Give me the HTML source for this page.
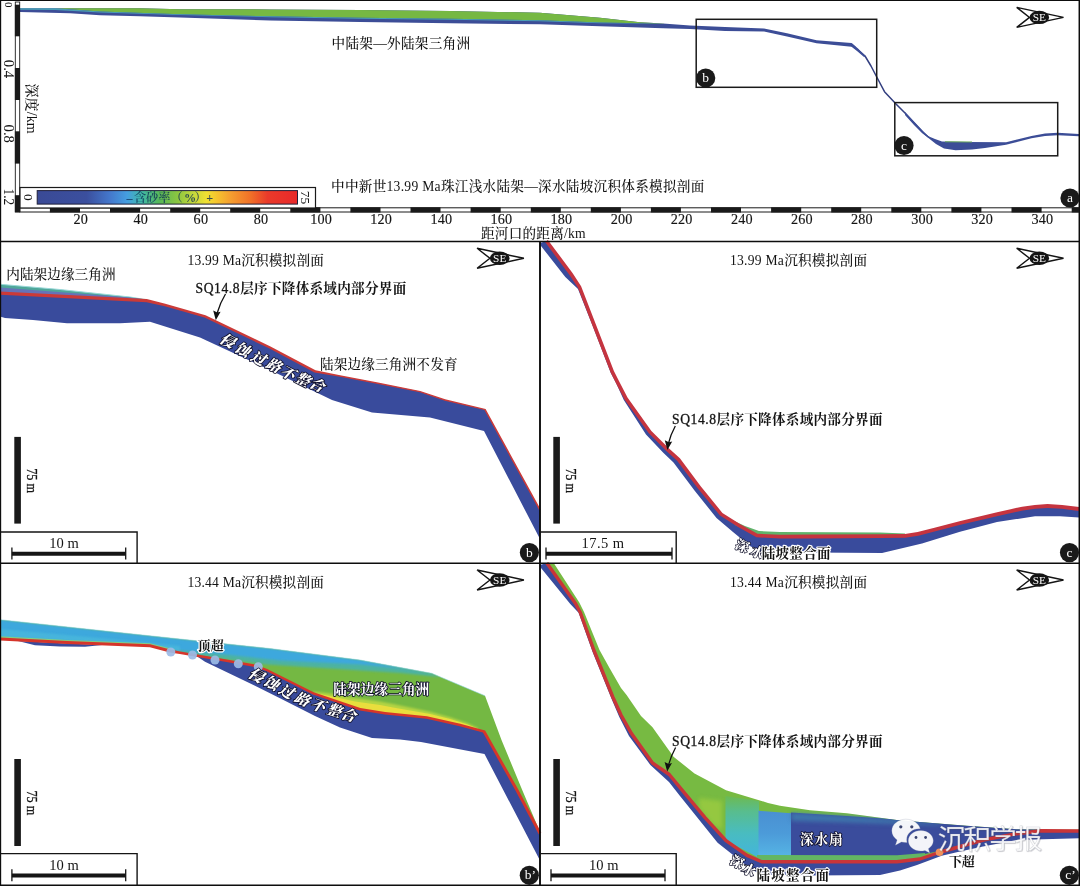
<!DOCTYPE html>
<html lang="zh"><head><meta charset="utf-8"><title>沉积模拟剖面</title>
<style>
html,body{margin:0;padding:0;background:#fff;}
body{width:1080px;height:886px;overflow:hidden;}
svg{display:block;}
text{font-family:"Liberation Serif","Noto Serif CJK SC",serif;font-size:14px;fill:#141414;font-weight:500;}
.b{font-weight:bold;}
.sb{font-weight:700;}
.sb tspan{font-weight:400;stroke:#141414;stroke-width:0.3px;letter-spacing:0.3px;}
.tk{font-size:14.2px;stroke:#141414;stroke-width:0.15px;}
.sans{font-family:"Liberation Sans","Noto Sans CJK SC",sans-serif;}
</style></head><body>
<svg width="1080" height="886" viewBox="0 0 1080 886">
<defs>
<linearGradient id="cb" x1="0" x2="1" y1="0" y2="0">
<stop offset="0" stop-color="#3a4a96"/>
<stop offset="0.19" stop-color="#3b4f9e"/>
<stop offset="0.28" stop-color="#4478cc"/>
<stop offset="0.345" stop-color="#459ee0"/>
<stop offset="0.4" stop-color="#40b8a8"/>
<stop offset="0.47" stop-color="#58b858"/>
<stop offset="0.54" stop-color="#8cc640"/>
<stop offset="0.6" stop-color="#c4d83c"/>
<stop offset="0.65" stop-color="#f0e032"/>
<stop offset="0.69" stop-color="#f6c42e"/>
<stop offset="0.74" stop-color="#f5a030"/>
<stop offset="0.82" stop-color="#f07028"/>
<stop offset="0.885" stop-color="#ea3a2a"/>
<stop offset="1" stop-color="#e8282a"/>
</linearGradient>

</defs>
<rect x="0" y="0" width="1080" height="886" fill="#fff"/>

<defs>
<filter id="bl1" x="-5%" y="-20%" width="110%" height="140%"><feGaussianBlur stdDeviation="1.2"/></filter>
<filter id="bl2" x="-10%" y="-30%" width="120%" height="160%"><feGaussianBlur stdDeviation="2.2"/></filter>
<filter id="bl05" x="-5%" y="-20%" width="110%" height="140%"><feGaussianBlur stdDeviation="0.5"/></filter>
<linearGradient id="gcy" x1="0" y1="0" x2="0" y2="1"><stop offset="0" stop-color="#6cba52"/><stop offset="0.25" stop-color="#58bd8e"/><stop offset="0.6" stop-color="#49bcc0"/><stop offset="1" stop-color="#43b4dc"/></linearGradient>
<linearGradient id="glb" x1="0" y1="0" x2="0" y2="1"><stop offset="0" stop-color="#4a90d2"/><stop offset="0.5" stop-color="#4c9bd9"/><stop offset="1" stop-color="#56b4e4"/></linearGradient>
</defs>
<g id="pa">
<polygon points="20.0,8.3 70.0,8.3 140.0,8.3 180.0,9.2 270.0,9.4 360.0,10.0 450.0,11.0 540.0,12.7 600.0,17.8 640.0,22.3 663.0,23.6 690.0,25.6 725.0,27.1 764.0,28.5 787.0,33.3 816.5,40.2 851.5,43.0 856.0,47.0 856.0,47.0 851.5,46.8 816.5,43.2 787.0,36.5 764.0,31.6 725.0,31.0 690.0,29.1 663.0,28.2 640.0,27.5 600.0,26.2 540.0,24.3 450.0,23.3 360.0,21.9 270.0,20.6 180.0,17.4 140.0,16.2 100.0,15.2 70.0,13.2 20.0,12.0" fill="#3c4d97" />
<polygon points="55.0,8.3 140.0,8.3 180.0,9.2 270.0,9.4 360.0,10.0 450.0,11.0 540.0,12.7 600.0,17.8 640.0,22.3 667.0,23.8 667.0,23.8 600.0,22.5 540.0,20.2 450.0,18.8 360.0,17.8 270.0,16.3 180.0,14.2 100.0,11.5 55.0,8.3" fill="#76b843" />
<polygon points="20.0,8.3 55.0,8.3 100.0,11.5 180.0,14.2 270.0,16.3 360.0,17.8 450.0,18.8 540.0,20.2 600.0,22.5 667.0,23.8 667.0,23.8 600.0,23.3 540.0,21.3 450.0,19.8 360.0,18.8 270.0,17.2 180.0,15.0 100.0,12.5 55.0,10.0 20.0,9.8" fill="#4a9fb5" />
<polyline points="851.5,44.8 858.0,50.0 865.0,56.0 871.0,66.0 877.0,77.5 884.5,91.7 896.0,104.0 905.0,113.0 915.0,124.0 923.0,132.5 929.0,137.5" fill="none" stroke="#333f80" stroke-width="1.5" stroke-linejoin="round" />
<polygon points="851.5,43.0 858.0,48.5 866.0,56.5 864.0,57.0 857.0,51.0 851.5,46.8" fill="#3c4d97" />
<polygon points="905.0,112.0 915.0,122.5 923.0,131.0 928.4,136.2 935.0,139.0 942.0,141.5 967.0,142.0 1006.0,142.3 1031.5,136.0 1045.0,133.6 1057.7,132.8 1079.0,133.9 1079.0,136.3 1057.7,135.3 1045.0,136.1 1031.5,138.3 1006.0,144.8 985.0,148.0 972.0,149.5 955.6,150.3 944.0,148.4 936.0,144.0 928.4,138.0 922.0,133.0 914.0,125.0 905.0,115.0" fill="#3c4d97" />
<polygon points="945.0,141.3 972.0,141.6 972.0,142.6 945.0,142.3" fill="#6aa95a" />
</g>
<g id="pb">
<polygon points="0.0,293.2 146.7,300.6 165.0,305.0 205.0,316.3 270.0,347.5 315.0,371.3 340.0,376.0 378.0,383.2 420.0,391.6 445.0,400.0 485.0,409.6 540.0,510.0 540.0,539.0 484.0,431.0 430.0,417.5 372.0,412.5 332.0,400.0 270.0,370.0 200.0,337.5 150.0,321.7 120.0,323.3 67.0,323.3 33.0,320.0 5.0,318.0 0.0,316.5" fill="#394b9c" />
<polygon points="0.0,284.2 60.0,289.5 130.0,297.0 146.7,299.5 0.0,293.0" fill="#4fa79a" />
<polygon points="0.0,283.8 60.0,289.1 130.0,296.6 146.7,299.3 130.0,297.4 60.0,290.0 0.0,284.8" fill="#9ad8d8" />
<polygon points="0.0,287.6 130.0,297.6 146.7,299.5 0.0,293.0" fill="#6573b8" />
<polygon points="0.1,291.6 146.8,299.0 165.3,303.8 205.5,315.2 270.5,346.4 315.5,370.2 340.1,375.3 378.1,382.5 420.2,390.9 445.2,399.3 485.6,409.1 540.7,509.6 539.3,510.4 484.4,410.1 444.8,400.7 419.8,392.3 377.9,383.9 339.9,376.7 314.5,372.4 269.5,348.6 204.5,317.4 164.7,306.2 146.6,302.2 -0.1,294.8" fill="#cb3a38" />
</g>
<g id="pc">
<polygon points="546.5,241.0 571.0,274.0 579.5,287.0 594.0,324.6 612.2,371.6 617.6,382.4 626.0,398.5 650.0,432.0 667.6,449.6 678.5,459.5 699.3,487.4 721.2,514.2 739.0,525.5 757.0,535.5 780.0,536.6 810.0,536.5 880.0,536.2 905.0,535.8 918.0,533.8 935.0,529.5 960.0,523.0 997.5,514.2 1022.5,508.6 1035.0,506.8 1047.5,506.0 1062.0,506.8 1079.0,509.0 1079.0,517.5 1060.0,516.3 1035.0,516.3 997.0,522.0 960.0,531.8 922.0,543.5 882.0,553.0 810.0,552.5 760.0,551.5 750.0,546.0 733.0,532.0 716.5,518.0 694.5,490.5 673.5,462.5 663.3,452.8 646.0,434.5 623.8,400.0 616.3,383.6 610.8,373.0 592.7,326.0 578.0,289.0 565.3,277.0 541.0,246.0 540.0,243.0" fill="#394b9c" />
<polygon points="733.0,520.5 745.0,526.0 759.0,531.0 780.0,532.0 880.0,532.6 905.0,533.6 905.0,535.5 757.0,535.5 735.0,525.0" fill="#5fb36a" />
<polygon points="547.9,239.9 572.5,273.0 581.1,286.3 595.7,324.0 613.9,370.9 619.2,381.6 627.5,397.5 651.4,430.9 668.8,448.3 679.9,458.3 700.7,486.3 722.4,512.9 739.9,524.0 757.5,533.7 780.0,534.7 810.0,534.6 880.0,534.3 904.9,533.9 917.6,531.9 934.5,527.7 959.5,521.2 997.1,512.3 1022.1,506.7 1034.8,504.9 1047.5,504.1 1062.2,504.9 1079.2,507.1 1078.8,510.9 1061.8,508.7 1047.5,507.9 1035.2,508.7 1022.9,510.5 997.9,516.1 960.5,524.8 935.5,531.3 918.4,535.7 905.1,537.7 880.0,538.1 810.0,538.4 780.0,538.5 756.5,537.3 738.1,527.0 720.0,515.5 697.9,488.5 677.1,460.7 666.4,450.9 648.6,433.1 624.5,399.5 616.0,383.2 610.5,372.3 592.3,325.2 577.9,287.7 569.5,275.0 545.1,242.1" fill="#c5343f" />
</g>
<g id="pb2">
<clipPath id="cpb2"><polygon points="0.0,619.7 180.0,639.0 270.0,648.5 360.0,660.0 431.7,673.3 485.0,695.8 501.5,740.0 522.0,789.5 537.5,826.0 540.0,832.0 540.0,833.5 516.6,789.5 484.0,731.5 460.0,725.0 426.7,717.5 385.0,713.3 360.0,709.2 313.3,693.3 296.7,685.0 266.7,670.0 255.0,665.8 226.7,660.8 180.0,652.8 170.0,651.0 150.0,645.8 67.0,642.5 0.0,639.0"/></clipPath>
<polygon points="180.0,652.8 226.7,660.8 255.0,665.8 266.7,670.0 296.7,685.0 313.3,693.3 360.0,709.2 385.0,713.3 426.7,717.5 460.0,725.0 484.0,731.5 516.6,789.5 540.0,833.5 540.0,860.5 484.5,754.0 421.0,742.0 400.0,739.5 372.0,738.0 340.0,727.5 315.0,716.0 280.0,698.3 246.7,681.7 205.0,661.7 198.0,657.0" fill="#394b9c" />
<polygon points="18.0,641.0 67.0,643.5 102.0,645.0 85.0,646.8 60.0,646.6 35.0,645.2" fill="#394b9c" />
<polygon points="0.0,619.7 180.0,639.0 270.0,648.5 360.0,660.0 431.7,673.3 485.0,695.8 501.5,740.0 522.0,789.5 537.5,826.0 540.0,832.0 540.0,833.5 516.6,789.5 484.0,731.5 460.0,725.0 426.7,717.5 385.0,713.3 360.0,709.2 313.3,693.3 296.7,685.0 266.7,670.0 255.0,665.8 226.7,660.8 180.0,652.8 170.0,651.0 150.0,645.8 67.0,642.5 0.0,639.0" fill="#74b843" />
<g clip-path="url(#cpb2)">
<polygon points="0.0,619.7 180.0,639.0 270.0,648.5 360.0,660.0 431.7,673.3 440.0,677.0 400.0,673.0 330.0,668.5 266.0,664.5 200.0,656.0 150.0,647.0 0.0,640.0" fill="#4db3a0" filter="url(#bl1)"/>
<polygon points="0.0,619.7 180.0,639.0 270.0,648.5 360.0,660.0 431.7,673.3 431.7,673.3 400.0,668.5 360.0,664.5 330.0,663.0 280.0,660.5 230.0,655.0 180.0,650.5 100.0,642.0 0.0,637.0" fill="#3ea8dd" filter="url(#bl1)"/>
<polygon points="0.0,629.0 100.0,638.0 180.0,646.0 180.0,651.0 100.0,642.5 0.0,637.5" fill="#49b7dc" filter="url(#bl1)" opacity="0.85"/>
<polygon points="0.0,636.3 67.0,640.0 150.0,643.3 175.0,649.5 175.0,651.5 150.0,645.0 67.0,641.8 0.0,638.0" fill="#8ccf7a" filter="url(#bl05)" opacity="0.9"/>
<polygon points="313.3,691.5 330.0,693.5 355.0,698.0 380.0,701.5 393.0,704.0 410.0,707.5 430.0,711.8 450.0,717.3 467.0,723.0 478.0,728.0 478.0,730.0 460.0,725.0 426.7,717.5 385.0,713.3 360.0,709.2 313.3,693.3" fill="#b4d443" filter="url(#bl1)"/>
<polygon points="314.0,693.0 330.0,696.0 355.0,701.5 380.0,705.0 393.0,707.5 410.0,710.5 430.0,714.0 450.0,719.0 467.0,724.3 478.0,728.8 478.0,730.0 460.0,725.0 426.7,717.5 385.0,713.3 360.0,709.2 314.0,694.5" fill="#e9de3e" filter="url(#bl05)"/>
</g>
<polyline points="0.0,619.7 180.0,639.0 270.0,648.5 360.0,660.0 431.7,673.3 485.0,695.8" fill="none" stroke="#8fd6e8" stroke-width="0.8" stroke-linejoin="round" opacity="0.7"/>
<polygon points="0.1,637.5 67.1,641.0 150.1,644.3 170.3,649.5 180.2,651.6 226.9,659.6 255.3,664.6 267.2,668.9 297.2,683.9 313.7,692.2 360.3,708.0 385.1,712.1 426.9,716.3 460.3,723.8 485.1,730.5 517.9,788.8 541.3,832.8 538.7,834.2 515.3,790.2 482.9,732.5 459.7,726.2 426.5,718.7 384.9,714.5 359.7,710.4 312.9,694.4 296.2,686.1 266.2,671.1 254.7,667.0 226.5,662.0 179.8,654.0 169.7,652.5 149.9,647.3 66.9,644.0 -0.1,640.5" fill="#d6352a" />
<circle cx="170.8" cy="652" r="4.5" fill="#9bbbe6" opacity="0.92"/>
<circle cx="192.5" cy="655" r="4.5" fill="#9bbbe6" opacity="0.92"/>
<circle cx="215" cy="660" r="4.5" fill="#9bbbe6" opacity="0.92"/>
<circle cx="238.3" cy="663.7" r="4.5" fill="#9bbbe6" opacity="0.92"/>
<circle cx="258.3" cy="666.7" r="4.5" fill="#9bbbe6" opacity="0.92"/>
</g>
<g id="pc2">
<clipPath id="cpc2"><polygon points="553.7,563.0 579.3,602.5 584.0,612.0 599.5,650.0 609.5,668.0 621.0,688.0 626.6,695.0 630.0,700.0 641.0,716.0 652.5,727.3 673.5,756.7 694.5,773.5 726.0,790.3 768.0,802.9 780.0,805.8 810.0,810.3 846.7,813.3 896.7,820.0 916.7,821.7 966.7,825.8 1016.7,829.2 1050.0,829.7 1079.0,829.7 1079.0,831.0 1041.7,830.8 1016.7,833.7 983.3,840.0 939.0,852.5 920.0,859.0 897.0,861.7 810.0,861.7 761.7,861.7 747.0,855.4 726.0,840.7 705.0,817.6 684.0,792.4 669.3,774.5 652.5,763.0 631.5,733.6 621.0,715.0 612.8,697.0 593.8,650.0 580.3,612.5 575.5,603.5 546.8,563.0"/></clipPath>
<polygon points="546.8,563.0 575.5,603.5 580.3,612.5 593.8,650.0 612.8,697.0 621.0,715.0 631.5,733.6 652.5,763.0 669.3,774.5 684.0,792.4 705.0,817.6 726.0,840.7 747.0,855.4 761.7,861.7 810.0,861.7 897.0,861.7 920.0,859.0 939.0,852.5 983.3,840.0 1016.7,833.7 1041.7,830.8 1079.0,831.0 1079.0,838.3 1016.7,840.0 983.0,846.5 960.0,851.5 941.7,855.8 917.0,865.0 900.0,870.5 880.0,875.0 810.0,875.5 759.6,874.3 747.0,866.0 717.6,842.8 680.0,796.0 669.0,782.0 650.4,765.0 629.0,736.0 619.3,717.0 611.6,699.0 592.6,652.0 578.6,612.8 570.3,604.0 541.0,568.0 540.0,565.0" fill="#394b9c" />
<polygon points="553.7,563.0 579.3,602.5 584.0,612.0 599.5,650.0 609.5,668.0 621.0,688.0 626.6,695.0 630.0,700.0 641.0,716.0 652.5,727.3 673.5,756.7 694.5,773.5 726.0,790.3 768.0,802.9 780.0,805.8 810.0,810.3 846.7,813.3 896.7,820.0 916.7,821.7 966.7,825.8 1016.7,829.2 1050.0,829.7 1079.0,829.7 1079.0,831.0 1041.7,830.8 1016.7,833.7 983.3,840.0 939.0,852.5 920.0,859.0 897.0,861.7 810.0,861.7 761.7,861.7 747.0,855.4 726.0,840.7 705.0,817.6 684.0,792.4 669.3,774.5 652.5,763.0 631.5,733.6 621.0,715.0 612.8,697.0 593.8,650.0 580.3,612.5 575.5,603.5 546.8,563.0" fill="#77ba42" />
<g clip-path="url(#cpc2)">
<polygon points="699.0,798.0 722.0,801.0 722.0,830.0 712.0,824.0 699.0,808.0" fill="#9fcd3f" filter="url(#bl2)" opacity="0.75"/>
<polygon points="725.5,796.0 759.0,801.0 759.0,858.0 725.5,840.0" fill="url(#gcy)" />
<polygon points="758.5,810.8 791.0,813.3 791.0,856.0 758.5,856.0" fill="url(#glb)" />
<polygon points="791.0,812.5 846.7,816.0 880.0,818.3 896.7,819.5 916.7,821.2 966.7,825.3 1016.7,828.7 1050.0,829.2 1050.0,830.0 1016.7,832.5 983.3,839.0 939.0,851.0 920.0,855.0 897.0,856.0 791.0,856.0" fill="#3a4c9c" />
<polygon points="791.0,812.5 846.7,816.0 896.7,819.5 940.0,823.0 940.0,825.0 896.7,824.0 846.7,822.5 791.0,821.0" fill="#3f7fb0" filter="url(#bl2)" opacity="0.8"/>
<polygon points="757.0,855.0 897.0,855.3 925.0,853.0 925.0,857.0 897.0,861.0 757.0,861.0" fill="#63b663" />
</g>
<polyline points="546.8,563.0 575.5,603.5 580.3,612.5 593.8,650.0 612.8,697.0 621.0,715.0 631.5,733.6 652.5,763.0 669.3,774.5 684.0,792.4 705.0,817.6 726.0,840.7 747.0,855.4 761.7,861.7 810.0,861.7 897.0,861.7 920.0,859.0 939.0,852.5 983.3,840.0 1016.7,833.7 1041.7,830.8 1079.0,831.0" fill="none" stroke="#c93538" stroke-width="3.4" stroke-linejoin="round" />
<circle cx="939.5" cy="852.3" r="3.8" fill="#f0915a"/>
</g>
<g fill="none" stroke="#0d0d0d" stroke-width="1.5">
<path d="M0.55,0 V886" stroke-width="1.25"/>
<path d="M0,0.3 H1080" stroke-width="1.6"/>
<path d="M1079.3,0 V886" stroke-width="1.5"/>
<path d="M0,241.4 H1080"/>
<path d="M0,563.2 H1080"/>
<path d="M0,885.3 H1080" stroke-width="1.6"/>
<path d="M540,241 V886" stroke-width="1.9"/>
</g>
<g>
<rect x="15.3" y="2" width="4.4" height="210" fill="#fff" stroke="#1a1a1a" stroke-width="0.9"/>
<rect x="14.9" y="4.7" width="5.1" height="31.599999999999998" fill="#1a1a1a"/>
<rect x="14.9" y="68" width="5.1" height="32" fill="#1a1a1a"/>
<rect x="14.9" y="131.3" width="5.1" height="32.29999999999998" fill="#1a1a1a"/>
<rect x="14.9" y="195.2" width="5.1" height="17.0" fill="#1a1a1a"/>
<rect x="20" y="207.8" width="1059" height="4.2" fill="#fff" stroke="#1a1a1a" stroke-width="1"/>
<rect x="49.9" y="207.3" width="30.1" height="5.2" fill="#1a1a1a"/>
<rect x="110.0" y="207.3" width="30.1" height="5.2" fill="#1a1a1a"/>
<rect x="170.2" y="207.3" width="30.0" height="5.2" fill="#1a1a1a"/>
<rect x="230.2" y="207.3" width="30.0" height="5.2" fill="#1a1a1a"/>
<rect x="290.3" y="207.3" width="30.1" height="5.2" fill="#1a1a1a"/>
<rect x="350.4" y="207.3" width="30.1" height="5.2" fill="#1a1a1a"/>
<rect x="410.5" y="207.3" width="30.0" height="5.2" fill="#1a1a1a"/>
<rect x="470.6" y="207.3" width="30.1" height="5.2" fill="#1a1a1a"/>
<rect x="530.8" y="207.3" width="30.0" height="5.2" fill="#1a1a1a"/>
<rect x="590.8" y="207.3" width="30.1" height="5.2" fill="#1a1a1a"/>
<rect x="650.9" y="207.3" width="30.0" height="5.2" fill="#1a1a1a"/>
<rect x="711.0" y="207.3" width="30.0" height="5.2" fill="#1a1a1a"/>
<rect x="771.1" y="207.3" width="30.1" height="5.2" fill="#1a1a1a"/>
<rect x="831.2" y="207.3" width="30.0" height="5.2" fill="#1a1a1a"/>
<rect x="891.3" y="207.3" width="30.0" height="5.2" fill="#1a1a1a"/>
<rect x="951.4" y="207.3" width="30.0" height="5.2" fill="#1a1a1a"/>
<rect x="1011.5" y="207.3" width="30.1" height="5.2" fill="#1a1a1a"/>
<rect x="1071.7" y="207.3" width="7.3" height="5.2" fill="#1a1a1a"/>
</g>
<text class="tk" x="73.4" y="224.2" textLength="14.4" lengthAdjust="spacing">20</text>
<text class="tk" x="133.5" y="224.2" textLength="14.4" lengthAdjust="spacing">40</text>
<text class="tk" x="193.6" y="224.2" textLength="14.4" lengthAdjust="spacing">60</text>
<text class="tk" x="253.7" y="224.2" textLength="14.4" lengthAdjust="spacing">80</text>
<text class="tk" x="310.2" y="224.2" textLength="21.6" lengthAdjust="spacing">100</text>
<text class="tk" x="370.3" y="224.2" textLength="21.6" lengthAdjust="spacing">120</text>
<text class="tk" x="430.4" y="224.2" textLength="21.6" lengthAdjust="spacing">140</text>
<text class="tk" x="490.5" y="224.2" textLength="21.6" lengthAdjust="spacing">160</text>
<text class="tk" x="550.6" y="224.2" textLength="21.6" lengthAdjust="spacing">180</text>
<text class="tk" x="610.7" y="224.2" textLength="21.6" lengthAdjust="spacing">200</text>
<text class="tk" x="670.8" y="224.2" textLength="21.6" lengthAdjust="spacing">220</text>
<text class="tk" x="730.9" y="224.2" textLength="21.6" lengthAdjust="spacing">240</text>
<text class="tk" x="791.0" y="224.2" textLength="21.6" lengthAdjust="spacing">260</text>
<text class="tk" x="851.1" y="224.2" textLength="21.6" lengthAdjust="spacing">280</text>
<text class="tk" x="911.2" y="224.2" textLength="21.6" lengthAdjust="spacing">300</text>
<text class="tk" x="971.3" y="224.2" textLength="21.6" lengthAdjust="spacing">320</text>
<text class="tk" x="1031.4" y="224.2" textLength="21.6" lengthAdjust="spacing">340</text>
<text transform="translate(4.6,1.9) rotate(90)" textLength="5.4" lengthAdjust="spacingAndGlyphs" style="font-size:10.5px;">0</text>
<text transform="translate(4.3,59.8) rotate(90)" textLength="18.4" lengthAdjust="spacingAndGlyphs" style="font-size:15.2px;">0.4</text>
<text transform="translate(4.3,124.5) rotate(90)" textLength="18.5" lengthAdjust="spacingAndGlyphs" style="font-size:15.2px;">0.8</text>
<text transform="translate(4.3,188.6) rotate(90)" textLength="16.6" lengthAdjust="spacingAndGlyphs" style="font-size:15.2px;">1.2</text>
<text transform="translate(26.8,83.5) rotate(90)" textLength="50.2" lengthAdjust="spacing" style="font-size:14px;">深度/km</text>
<text x="481" y="238.2" textLength="104.7" lengthAdjust="spacing" style="font-size:13.6px;">距河口的距离/km</text>
<text x="331.5" y="48" textLength="138.5" lengthAdjust="spacing" style="font-size:13.6px;">中陆架—外陆架三角洲</text>
<text x="331" y="191" textLength="373.3" lengthAdjust="spacing" style="font-size:13.6px;">中中新世13.99 Ma珠江浅水陆架—深水陆坡沉积体系模拟剖面</text>
<rect x="20" y="187.5" width="295.5" height="20.5" fill="#fff" stroke="#1a1a1a" stroke-width="1.2"/>
<rect x="37.2" y="190.6" width="260.3" height="13.5" fill="url(#cb)" stroke="#20203a" stroke-width="1"/>
<text transform="translate(23.8,197.4) rotate(90)" text-anchor="middle" style="font-size:13.5px">0</text>
<text transform="translate(301.3,197.4) rotate(90)" text-anchor="middle" style="font-size:13.5px">75</text>
<text x="126.5 134 146 158.3 170.5 184 194.5 206.3" y="202" style="fill:#0b2c55;fill-opacity:0.8;font-size:12.2px;font-weight:600">–含砂率（%）+</text>
<rect x="696.2" y="19.3" width="180.5" height="68" fill="none" stroke="#1a1a1a" stroke-width="1.5"/>
<rect x="894.8" y="102.6" width="162.9" height="53.2" fill="none" stroke="#1a1a1a" stroke-width="1.5"/>
<circle cx="705.7" cy="78" r="9.6" fill="#1a1a1a"/>
<text x="705.7" y="82" text-anchor="middle" style="fill:#fff;font-size:13.5px">b</text>
<circle cx="904" cy="145.5" r="9.6" fill="#1a1a1a"/>
<text x="904" y="149.5" text-anchor="middle" style="fill:#fff;font-size:13.5px">c</text>
<circle cx="1070" cy="198" r="9.6" fill="#1a1a1a"/>
<text x="1070" y="202" text-anchor="middle" style="fill:#fff;font-size:13.5px">a</text>
<circle cx="529.4" cy="552.6" r="9.6" fill="#1a1a1a"/>
<text x="529.4" y="556.6" text-anchor="middle" style="fill:#fff;font-size:13.5px">b</text>
<circle cx="1069.5" cy="552.6" r="9.6" fill="#1a1a1a"/>
<text x="1069.5" y="556.6" text-anchor="middle" style="fill:#fff;font-size:13.5px">c</text>
<circle cx="529.3" cy="875.3" r="9.6" fill="#1a1a1a"/>
<text x="530.3" y="879.3" text-anchor="middle" style="fill:#fff;font-size:13.5px">b’</text>
<circle cx="1069.4" cy="875.3" r="9.6" fill="#1a1a1a"/>
<text x="1070.4" y="879.3" text-anchor="middle" style="fill:#fff;font-size:13.5px">c’</text>
<g transform="translate(1039.3,17.4)"><path d="M-22.6,-10 L24.2,0 L-22.6,10 L-9.8,0 Z" fill="#fff" stroke="#151515" stroke-width="1.45" stroke-linejoin="miter"/>
<ellipse cx="0" cy="0" rx="9.8" ry="6.7" fill="#151515"/>
<text x="0" y="3.9" text-anchor="middle" style="font-size:11.3px;fill:#fff;font-weight:400">SE</text></g>
<g transform="translate(499.7,258.3)"><path d="M-22.6,-10 L24.2,0 L-22.6,10 L-9.8,0 Z" fill="#fff" stroke="#151515" stroke-width="1.45" stroke-linejoin="miter"/>
<ellipse cx="0" cy="0" rx="9.8" ry="6.7" fill="#151515"/>
<text x="0" y="3.9" text-anchor="middle" style="font-size:11.3px;fill:#fff;font-weight:400">SE</text></g>
<g transform="translate(1039.3,258.3)"><path d="M-22.6,-10 L24.2,0 L-22.6,10 L-9.8,0 Z" fill="#fff" stroke="#151515" stroke-width="1.45" stroke-linejoin="miter"/>
<ellipse cx="0" cy="0" rx="9.8" ry="6.7" fill="#151515"/>
<text x="0" y="3.9" text-anchor="middle" style="font-size:11.3px;fill:#fff;font-weight:400">SE</text></g>
<g transform="translate(499.7,580)"><path d="M-22.6,-10 L24.2,0 L-22.6,10 L-9.8,0 Z" fill="#fff" stroke="#151515" stroke-width="1.45" stroke-linejoin="miter"/>
<ellipse cx="0" cy="0" rx="9.8" ry="6.7" fill="#151515"/>
<text x="0" y="3.9" text-anchor="middle" style="font-size:11.3px;fill:#fff;font-weight:400">SE</text></g>
<g transform="translate(1039.3,580)"><path d="M-22.6,-10 L24.2,0 L-22.6,10 L-9.8,0 Z" fill="#fff" stroke="#151515" stroke-width="1.45" stroke-linejoin="miter"/>
<ellipse cx="0" cy="0" rx="9.8" ry="6.7" fill="#151515"/>
<text x="0" y="3.9" text-anchor="middle" style="font-size:11.3px;fill:#fff;font-weight:400">SE</text></g>
<text x="187.5" y="265.2" textLength="136.3" lengthAdjust="spacing" style="font-size:13.6px;">13.99 Ma沉积模拟剖面</text>
<text x="730" y="265.2" textLength="137.0" lengthAdjust="spacing" style="font-size:13.6px;">13.99 Ma沉积模拟剖面</text>
<text x="187.5" y="586.6" textLength="136.3" lengthAdjust="spacing" style="font-size:13.6px;">13.44 Ma沉积模拟剖面</text>
<text x="730" y="586.6" textLength="137.0" lengthAdjust="spacing" style="font-size:13.6px;">13.44 Ma沉积模拟剖面</text>
<text x="6.3" y="278.8" textLength="109.2" lengthAdjust="spacing" style="font-size:13.6px;">内陆架边缘三角洲</text>
<text class="sb" x="195.5" y="292.7" textLength="210.8" lengthAdjust="spacing" style="font-size:13.6px;"><tspan>SQ14.8</tspan>层序下降体系域内部分界面</text>
<text x="320" y="368.8" textLength="137.5" lengthAdjust="spacing" style="font-size:13.6px;">陆架边缘三角洲不发育</text>
<text class="sb" x="672" y="424.4" textLength="210.5" lengthAdjust="spacing" style="font-size:13.6px;"><tspan>SQ14.8</tspan>层序下降体系域内部分界面</text>
<text class="sb" x="672" y="746.4" textLength="210.5" lengthAdjust="spacing" style="font-size:13.6px;"><tspan>SQ14.8</tspan>层序下降体系域内部分界面</text>
<rect x="14.3" y="436.9" width="6.6" height="86.70000000000005" fill="#1a1a1a"/>
<text transform="translate(26.700000000000003,468.15000000000003) rotate(90)" textLength="24.8" lengthAdjust="spacingAndGlyphs" style="font-size:15.5px;font-weight:400;stroke:#141414;stroke-width:0.3px">75 m</text>
<path d="M0.6,532 H137.1 V564" fill="none" stroke="#151515" stroke-width="1.4"/>
<path d="M11.9,553.8 H125.7" stroke="#151515" stroke-width="4" fill="none"/>
<path d="M11.9,547.5999999999999 V559.5999999999999 M125.7,547.5999999999999 V559.5999999999999" stroke="#151515" stroke-width="1.3" fill="none"/>
<text x="49.3" y="548" textLength="29.4" lengthAdjust="spacing" style="font-size:14.5px">10 m</text>
<rect x="553.3" y="436.9" width="6.6" height="86.70000000000005" fill="#1a1a1a"/>
<text transform="translate(565.6999999999999,468.15000000000003) rotate(90)" textLength="24.8" lengthAdjust="spacingAndGlyphs" style="font-size:15.5px;font-weight:400;stroke:#141414;stroke-width:0.3px">75 m</text>
<path d="M540,532 H676.2 V564" fill="none" stroke="#151515" stroke-width="1.4"/>
<path d="M546,553.8 H672" stroke="#151515" stroke-width="4" fill="none"/>
<path d="M546,547.5999999999999 V559.5999999999999 M672,547.5999999999999 V559.5999999999999" stroke="#151515" stroke-width="1.3" fill="none"/>
<text x="581.5" y="548" textLength="42.5" lengthAdjust="spacing" style="font-size:14.5px">17.5 m</text>
<rect x="14.3" y="759" width="6.6" height="87" fill="#1a1a1a"/>
<text transform="translate(26.700000000000003,790.4) rotate(90)" textLength="24.8" lengthAdjust="spacingAndGlyphs" style="font-size:15.5px;font-weight:400;stroke:#141414;stroke-width:0.3px">75 m</text>
<path d="M0.6,853.6 H137.1 V885.6" fill="none" stroke="#151515" stroke-width="1.4"/>
<path d="M11.9,875.5 H125.7" stroke="#151515" stroke-width="4" fill="none"/>
<path d="M11.9,869.3 V881.3 M125.7,869.3 V881.3" stroke="#151515" stroke-width="1.3" fill="none"/>
<text x="49.3" y="869.6" textLength="29.4" lengthAdjust="spacing" style="font-size:14.5px">10 m</text>
<rect x="553.3" y="759" width="6.6" height="87" fill="#1a1a1a"/>
<text transform="translate(565.6999999999999,790.4) rotate(90)" textLength="24.8" lengthAdjust="spacingAndGlyphs" style="font-size:15.5px;font-weight:400;stroke:#141414;stroke-width:0.3px">75 m</text>
<path d="M540,853.6 H676.2 V885.6" fill="none" stroke="#151515" stroke-width="1.4"/>
<path d="M551,875.5 H665" stroke="#151515" stroke-width="4" fill="none"/>
<path d="M551,869.3 V881.3 M665,869.3 V881.3" stroke="#151515" stroke-width="1.3" fill="none"/>
<text x="589" y="869.6" textLength="29.5" lengthAdjust="spacing" style="font-size:14.5px">10 m</text>
<g id="labels">
<text x="218.7 233.7 249.5 265.0 279.0 294.0 308.2" y="341.9 350.9 359.4 366.6 374.2 380.8 386.0" rotate="27 27 27 27 27 27 27" style="font-size:14.5px;font-weight:900;font-style:italic;fill:#fff;stroke:#10102a;stroke-width:1.7px;paint-order:stroke;stroke-linejoin:round;">侵蚀过路不整合</text>
<text x="247.6 262.6 277.6 293.4 309.4 325.7 340.1" y="676.6 684.1 692.4 700.5 707.6 712.9 717.4" rotate="28 28 28 26 20 18 18" style="font-size:14.5px;font-weight:900;font-style:italic;fill:#fff;stroke:#10102a;stroke-width:1.7px;paint-order:stroke;stroke-linejoin:round;">侵蚀过路不整合</text>
<text x="197.5" y="650" textLength="26.2" lengthAdjust="spacing" style="font-size:13px;font-weight:bold;stroke:#fff;stroke-width:2.4px;paint-order:stroke;stroke-linejoin:round;">顶超</text>
<text x="333.3" y="693.8" textLength="95.9" lengthAdjust="spacing" style="font-size:13.6px;font-weight:bold;fill:#fff;stroke:#10102a;stroke-width:1.7px;paint-order:stroke;stroke-linejoin:round;">陆架边缘三角洲</text>
<text x="800" y="843.8" textLength="42.5" lengthAdjust="spacing" style="font-size:13.6px;font-weight:bold;fill:#fff;stroke:#10102a;stroke-width:1.7px;paint-order:stroke;stroke-linejoin:round;">深水扇</text>
<text x="949" y="865.8" textLength="25.8" lengthAdjust="spacing" style="font-size:13px;font-weight:bold;">下超</text>
<text x="734.3 749.3" y="547.6 554.1" rotate="25 25" style="font-size:13.5px;font-weight:900;fill:#fff;stroke:#10102a;stroke-width:1.4px;paint-order:stroke;stroke-linejoin:round;">深水</text>
<text x="761.8" y="557.8" textLength="68.7" lengthAdjust="spacing" style="font-size:13.6px;font-weight:bold;stroke:#fff;stroke-width:2.4px;paint-order:stroke;stroke-linejoin:round;">陆坡整合面</text>
<text x="728.8 740.8" y="863.1 871.1" rotate="28 28" style="font-size:13.5px;font-weight:900;fill:#fff;stroke:#10102a;stroke-width:1.4px;paint-order:stroke;stroke-linejoin:round;">深水</text>
<text x="756.4" y="880" textLength="72.8" lengthAdjust="spacing" style="font-size:13.6px;font-weight:bold;stroke:#fff;stroke-width:2.4px;paint-order:stroke;stroke-linejoin:round;">陆坡整合面</text>
<g fill="none" stroke="#111" stroke-width="1.3">
<path d="M225.5,294 Q220,303 217.2,313"/>
<path d="M675.3,426 Q670.5,435 668.6,443"/>
<path d="M675.6,747.5 Q670.5,757 668.6,765"/>
</g>
<g fill="#111">
<path d="M215.8,320.3 L213.2,310.6 L217.3,312.6 L220.6,311.8 Z"/>
<path d="M667.4,450 L664.8,440.3 L668.9,442.3 L672.2,441.5 Z"/>
<path d="M667.2,771.6 L664.6,761.9 L668.7,763.9 L672,763.1 Z"/>
</g>
<g id="wm">
<filter id="ws" x="-5%" y="-10%" width="112%" height="125%"><feDropShadow dx="0.8" dy="0.7" stdDeviation="0.25" flood-color="#30364a" flood-opacity="0.32"/></filter>
<g fill="#fff" fill-opacity="0.94" stroke="#8890a8" stroke-opacity="0.35" stroke-width="0.7">
<path d="M905.8,819.2 c-7.8,0 -14,5.200 -14,11.600 c0,3.700 2.100,7 5.300,9.100 l-1.700,5.300 l6,-3.200 c1.400,0.300 2.900,0.500 4.400,0.500 c0.400,0 0.900,0 1.300,-0.100 c-0.300,-0.900 -0.400,-1.900 -0.400,-2.900 c0,-6 5.600,-10.800 12.500,-10.800 c0.300,0 0.700,0 1,0.100 c-1.300,-5.500 -7.200,-9.600 -14.400,-9.600 z"/>
<path d="M933.3,840.8 c0,-5.700 -5.600,-10.300 -12.500,-10.300 c-6.900,0 -12.500,4.600 -12.500,10.300 c0,5.700 5.600,10.300 12.500,10.300 c1.500,0 2.900,-0.200 4.200,-0.600 l4.700,2.600 l-1.300,-4.400 c3,-1.900 4.900,-4.700 4.900,-7.900 z"/>
</g>
<g fill="#3a4470">
<circle cx="900.8" cy="826.8" r="1.6"/><circle cx="911.8" cy="826.8" r="1.6"/>
<circle cx="916" cy="837.5" r="1.4"/><circle cx="925.6" cy="837.5" r="1.4"/>
</g>
<text class="sans" filter="url(#ws)" x="937.8" y="848.5" textLength="104.5" lengthAdjust="spacing" style="font-size:27.5px;font-weight:400;fill:#fff;fill-opacity:0.9;stroke:#7d8496;stroke-opacity:0.3;stroke-width:0.5px">沉积学报</text>
</g>
</g>
</svg></body></html>
